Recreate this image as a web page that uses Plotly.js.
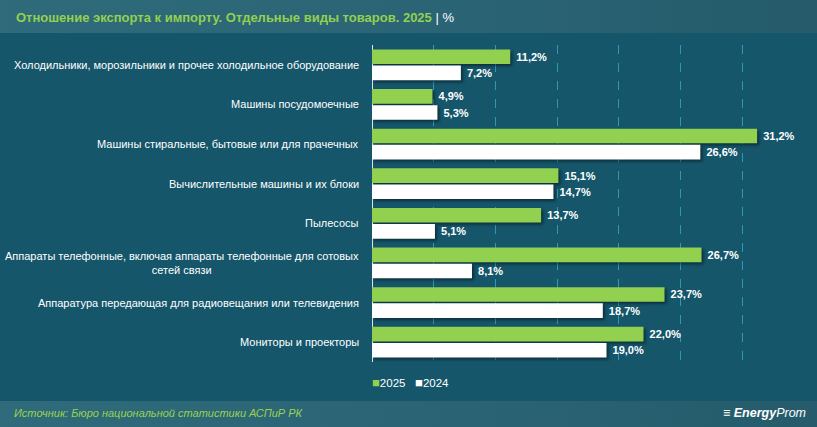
<!DOCTYPE html>
<html>
<head>
<meta charset="utf-8">
<script src="https://cdn.plot.ly/plotly-3.0.1.min.js"></script>
<style>
html,body{margin:0;padding:0;}
#wrap{position:relative;width:817px;height:427px;
 background:
  linear-gradient(90deg,#2f6b7b 0%,#2a6374 60%,#255b6b 100%) top/100% 33px no-repeat,
  linear-gradient(90deg,#2f6b7b 0%,#2a6374 60%,#255b6b 100%) bottom/100% 26px no-repeat,
  #15566a;}
#chart{width:817px;height:427px;}
.barlayer .point path{filter:drop-shadow(2px 2px 1.5px rgba(0,0,0,0.45));}
</style>
</head>
<body>
<div id="wrap"><div id="chart"></div></div>
<script>
const categories = [
  "Холодильники, морозильники и прочее холодильное оборудование",
  "Машины посудомоечные",
  "Машины стиральные, бытовые или для прачечных",
  "Вычислительные машины и их блоки",
  "Пылесосы",
  "Аппараты телефонные, включая аппараты телефонные для сотовых<br>сетей связи",
  "Аппаратура передающая для радиовещания или телевидения",
  "Мониторы и проекторы"
];
const values2025 = [11.2, 4.9, 31.2, 15.1, 13.7, 26.7, 23.7, 22.0];
const values2024 = [7.2, 5.3, 26.6, 14.7, 5.1, 8.1, 18.7, 19.0];
const seriesNames = ["2025", "2024"];
const seriesColors = ["#92d050", "#ffffff"];
const titleMain = "Отношение экспорта к импорту. Отдельные виды товаров. 2025";
const titleUnit = "%";
const sourceText = "Источник: Бюро национальной статистики АСПиР РК";

const fmt = v => " " + v.toFixed(1).replace(".", ",") + "%";
const FONT = "Liberation Sans, Arial, sans-serif";

const traces = [
  {type:"bar", orientation:"h", name:seriesNames[0], y:categories, x:values2025,
   marker:{color:seriesColors[0]}, text:values2025.map(fmt), textposition:"outside",
   cliponaxis:false, textfont:{color:"#ffffff", size:11, family:FONT, weight:"bold"}, hoverinfo:"none"},
  {type:"bar", orientation:"h", name:seriesNames[1], y:categories, x:values2024,
   marker:{color:seriesColors[1]}, text:values2024.map(fmt), textposition:"outside",
   cliponaxis:false, textfont:{color:"#ffffff", size:11, family:FONT, weight:"bold"}, hoverinfo:"none"}
];

const L = 372, R = 13, T = 45, B = 65, W = 817, H = 427;
const pw = W - L - R, ph = H - T - B;
const px = x => (x - L) / pw;
const py = y => (H - B - y) / ph;

const annotations = categories.map(c => ({
  xref:"paper", yref:"y", x:0, y:c, xanchor:"right", yanchor:"middle", xshift:-11,
  text:c, align:"center", showarrow:false,
  font:{color:"#ffffff", size:11, family:FONT}
}));
annotations.push({
  xref:"paper", yref:"paper", x:px(410), y:py(382), xanchor:"center", yanchor:"middle",
  text:"<span style='color:"+seriesColors[0]+";font-size:13px'>■</span>"+seriesNames[0]+"   <span style='color:"+seriesColors[1]+";font-size:13px'>■</span>"+seriesNames[1],
  showarrow:false, font:{color:"#ffffff", size:11.5, family:FONT}
});
annotations.push({
  xref:"paper", yref:"paper", x:px(12), y:py(413), xanchor:"left", yanchor:"middle",
  text:"<i>"+sourceText+"</i>", showarrow:false,
  font:{color:"#9ad24f", size:11, family:FONT}
});
annotations.push({
  xref:"paper", yref:"paper", x:px(808), y:py(413), xanchor:"right", yanchor:"middle",
  text:"<b><i>≡ Energy</i></b><i>Prom</i>", showarrow:false,
  font:{color:"#ffffff", size:12.5, family:FONT}
});

const layout = {
  width:W, height:H,
  paper_bgcolor:"rgba(0,0,0,0)", plot_bgcolor:"rgba(0,0,0,0)",
  margin:{l:L, r:R, t:T, b:B, pad:0},
  barmode:"group", bargap:0.18, bargroupgap:0.1,
  title:{text:"<b>"+titleMain+"</b> <span style='color:#ffffff'>| "+titleUnit+"</span>",
    xref:"container", yref:"container", x:16/W, y:1-17/H, xanchor:"left", yanchor:"middle",
    font:{color:"#92d050", size:13, family:FONT}},
  xaxis:{range:[0,35], dtick:5, showticklabels:false, showgrid:true,
    gridcolor:"#3296b5", griddash:"dash", gridwidth:1,
    zeroline:true, zerolinecolor:"#dfe6e8", zerolinewidth:1, fixedrange:true},
  yaxis:{autorange:"reversed", showticklabels:false, showgrid:false, zeroline:false, fixedrange:true},
  showlegend:false,
  annotations:annotations
};

Plotly.newPlot("chart", traces, layout, {displayModeBar:false, staticPlot:true});
</script>
</body>
</html>
